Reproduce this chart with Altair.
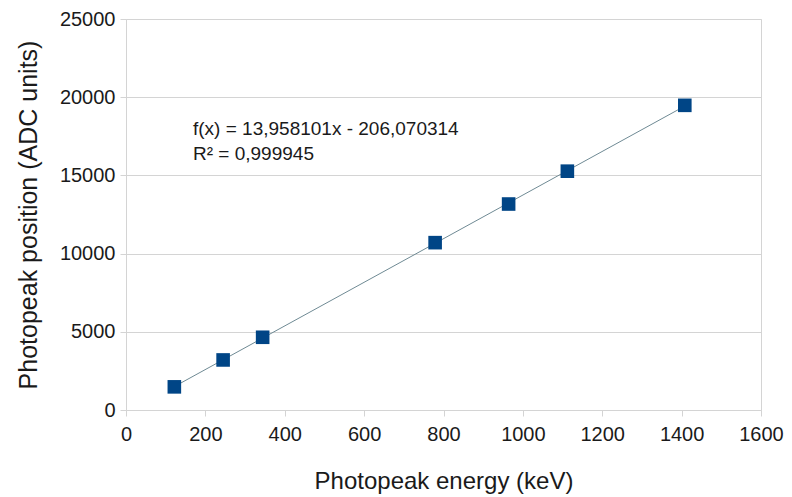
import altair as alt
import pandas as pd

# Photopeak energies (keV) and fitted peak positions (ADC units)
energy_kev = [121.8, 244.7, 344.3, 778.9, 964.1, 1112.1, 1408.0]
position_adc = [1480, 3200, 4650, 10700, 13170, 15270, 19480]

fit_text = ["f(x) = 13,958101x - 206,070314", "R² = 0,999945"]

df = pd.DataFrame({"energy": energy_kev, "position": position_adc})
txt = pd.DataFrame({"label": ["\n".join(fit_text)]})

FONT = "Liberation Sans"
GRID = "#d4d4d4"

x = alt.X(
    "energy:Q",
    title="Photopeak energy (keV)",
    scale=alt.Scale(domain=[0, 1600], nice=False),
    axis=alt.Axis(
        values=list(range(0, 1601, 200)),
        format="d",
        grid=False,
        labelFlush=False,
        labelOverlap=False,
        domainColor=GRID,
        tickColor=GRID,
        tickSize=6,
        labelPadding=8,
        labelFont=FONT,
        labelFontSize=20,
        labelColor="#1a1a1a",
        titleFont=FONT,
        titleFontSize=24,
        titleFontWeight="normal",
        titleColor="#1a1a1a",
        titleY=71,
        titleBaseline="middle",
    ),
)
y = alt.Y(
    "position:Q",
    title="Photopeak position (ADC units)",
    scale=alt.Scale(domain=[0, 25000], nice=False),
    axis=alt.Axis(
        values=list(range(0, 25001, 5000)),
        format="d",
        grid=True,
        labelFlush=False,
        gridColor=GRID,
        domainColor=GRID,
        tickColor=GRID,
        tickSize=6,
        labelPadding=5,
        labelFont=FONT,
        labelFontSize=20,
        labelColor="#1a1a1a",
        titleFont=FONT,
        titleFontSize=25,
        titleFontWeight="normal",
        titleColor="#1a1a1a",
        titleX=-98,
        titleBaseline="middle",
    ),
)

points = alt.Chart(df).mark_point(
    shape="square", filled=True, size=185, color="#004586", opacity=1
).encode(x=x, y=y)

trend = (
    alt.Chart(df)
    .transform_regression("energy", "position", method="linear")
    .mark_line(color="#6f8a94", strokeWidth=1)
    .encode(x=x, y=y)
)

labels = alt.Chart(txt).mark_text(
    align="left", baseline="alphabetic", font=FONT, fontSize=19,
    color="#1a1a1a", lineBreak="\n", lineHeight=25,
).encode(
    x=alt.value(67),
    y=alt.value(116),
    text="label:N",
)

chart = (
    alt.layer(trend, points, labels)
    .properties(
        width=635,
        height=391,
        autosize=alt.AutoSizeParams(type="none"),
        padding={"left": 118, "top": 11, "right": 23, "bottom": 87},
        background="white",
    )
    .configure_view(stroke=GRID, strokeWidth=1)
)

chart.save("out.html", embed_options={"renderer": "svg", "actions": False})
